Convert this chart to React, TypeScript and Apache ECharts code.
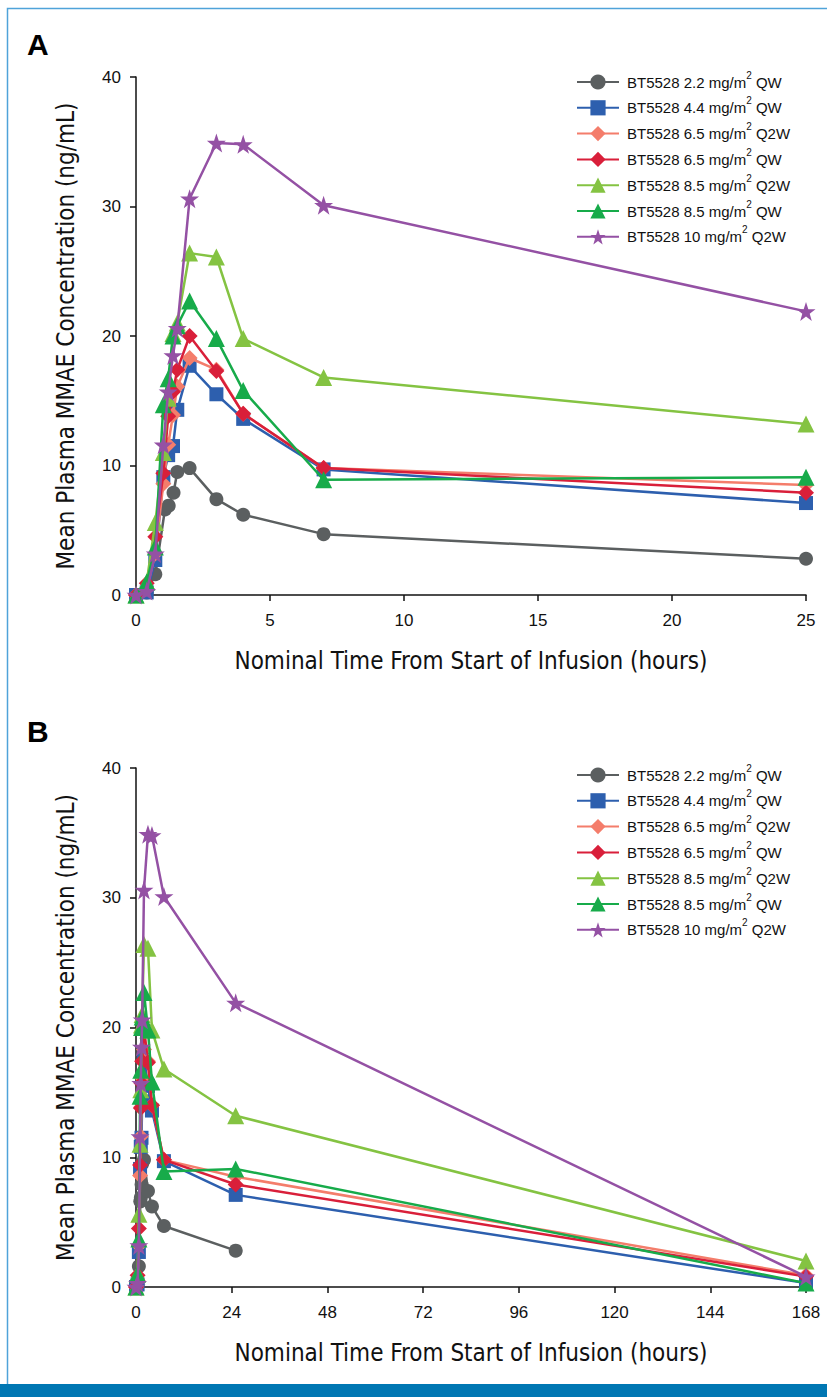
import React, { useEffect, useRef } from "react";
import * as echarts from "echarts";

const seriesNames = [
  "BT5528 2.2 mg/m2 QW",
  "BT5528 4.4 mg/m2 QW",
  "BT5528 6.5 mg/m2 Q2W",
  "BT5528 6.5 mg/m2 QW",
  "BT5528 8.5 mg/m2 Q2W",
  "BT5528 8.5 mg/m2 QW",
  "BT5528 10 mg/m2 Q2W",
];

const tGray = [0, 0.4, 0.72, 1.08, 1.22, 1.4, 1.54, 2, 3, 4, 7, 25];
const tStd = [0, 0.4, 0.72, 1.02, 1.2, 1.38, 1.54, 2, 3, 4, 7, 25, 168];

const vGray = [0, 0.2, 1.6, 6.6, 6.9, 7.9, 9.5, 9.8, 7.4, 6.2, 4.7, 2.8];
const vBlue = [0, 0.2, 2.7, 9.1, 10.8, 11.5, 14.3, 17.7, 15.5, 13.6, 9.7, 7.1, 0.3];
const vSalmon = [0, 0.5, 3.2, 8.6, 11.6, 13.9, 16.1, 18.3, 17.4, 14.0, 9.8, 8.5, 0.9];
const vRed = [0, 0.9, 4.5, 9.4, 13.8, 15.7, 17.4, 20.0, 17.3, 14.0, 9.8, 7.9, 0.8];
const vLightGreen = [0, 1.0, 5.6, 11.0, 15.2, 20.2, 21.0, 26.4, 26.1, 19.8, 16.8, 13.2, 2.0];
const vDarkGreen = [0, 1.0, 3.7, 14.7, 16.7, 20.0, 20.8, 22.7, 19.8, 15.8, 8.9, 9.1, 0.3];
const vPurple = [0, 0.3, 3.2, 11.6, 15.7, 18.5, 20.6, 30.6, 34.9, 34.8, 30.1, 21.9, 0.8];

const xTicksA = [0, 5, 10, 15, 20, 25];
const xTicksB = [0, 24, 48, 72, 96, 120, 144, 168];
const yTicks = [0, 10, 20, 30, 40];

const STAR =
  "path://M50,0 L61.8,35.1 L98.1,35.1 L68.8,56.8 L79.4,91.0 L50,70 L20.6,91.0 L31.2,56.8 L1.9,35.1 L38.2,35.1 Z";

const styles = [
  { color: "#5b5f60", symbol: "circle", size: 14 },
  { color: "#2d5fae", symbol: "rect", size: 14 },
  { color: "#f47d6b", symbol: "diamond", size: 16 },
  { color: "#d91f3a", symbol: "diamond", size: 16 },
  { color: "#84c342", symbol: "triangle", size: 17 },
  { color: "#17ab4a", symbol: "triangle", size: 17 },
  { color: "#9451a4", symbol: STAR, size: 19 },
];

const seriesTimes = [tGray, tStd, tStd, tStd, tStd, tStd, tStd];
const seriesValues = [vGray, vBlue, vSalmon, vRed, vLightGreen, vDarkGreen, vPurple];

const FONT = "'Liberation Sans', Arial, Helvetica, sans-serif";
const NARROW = "'Liberation Sans Narrow', 'DejaVu Sans Condensed', 'Liberation Sans', sans-serif";

function legendFormatter(name: string) {
  return name.replace("m2", "m{sup|2}");
}

export default function App() {
  const ref = useRef<HTMLDivElement>(null);

  useEffect(() => {
    if (!ref.current) return;
    const chart = echarts.init(ref.current, undefined, { renderer: "svg" });

    const grids = [
      { left: 136, top: 77, width: 670, height: 518 },
      { left: 136, top: 768, width: 670, height: 519 },
    ];

    const mkX = (i: number, max: number, interval: number, ticks: number[]) => ({
      type: "value",
      gridIndex: i,
      min: ticks[0],
      max,
      interval,
      name: "Nominal Time From Start of Infusion (hours)",
      nameLocation: "middle",
      nameGap: 54,
      nameTextStyle: { fontFamily: NARROW, fontSize: 24, color: "#111" },
      axisLine: { show: true, lineStyle: { color: "#111", width: 1.5 } },
      axisTick: { show: true, length: 6, lineStyle: { color: "#111", width: 1.5 } },
      axisLabel: { fontFamily: FONT, fontSize: 17, color: "#111", margin: 17 },
      splitLine: { show: false },
    });
    const mkY = (i: number) => ({
      type: "value",
      gridIndex: i,
      min: yTicks[0],
      max: yTicks[yTicks.length - 1],
      interval: 10,
      name: "Mean Plasma MMAE Concentration (ng/mL)",
      nameLocation: "middle",
      nameGap: 58,
      nameTextStyle: { fontFamily: NARROW, fontSize: 24, color: "#111" },
      axisLine: { show: true, lineStyle: { color: "#111", width: 1.5 } },
      axisTick: { show: true, length: 6, lineStyle: { color: "#111", width: 1.5 } },
      axisLabel: { fontFamily: FONT, fontSize: 17, color: "#111", margin: 15 },
      splitLine: { show: false },
    });

    const series: any[] = [];
    [0, 1].forEach((panel) => {
      seriesNames.forEach((name, k) => {
        const ts = seriesTimes[k];
        const vs = seriesValues[k];
        const data = ts
          .map((t, j) => [t, vs[j]])
          .filter((d) => (panel === 0 ? d[0] <= 25 : true));
        series.push({
          type: "line",
          name,
          xAxisIndex: panel,
          yAxisIndex: panel,
          data,
          symbol: styles[k].symbol,
          symbolSize: styles[k].size,
          showAllSymbol: true,
          color: styles[k].color,
          lineStyle: { color: styles[k].color, width: 2.5 },
          itemStyle: { color: styles[k].color },
          clip: true,
          z: 2 + k,
        });
      });
    });

    const legendCommon = {
      orient: "vertical",
      left: 571,
      itemWidth: 42,
      itemHeight: 19,
      itemGap: 6.2,
      formatter: legendFormatter,
      selectedMode: false,
      textStyle: {
        fontFamily: FONT,
        fontSize: 15,
        color: "#111",
        lineHeight: 14,
        padding: [0, 0, 0, 3],
        rich: {
          sup: { fontFamily: FONT, fontSize: 10, color: "#111", verticalAlign: "bottom", padding: [0, 0, 9, 0] },
        },
      },
      data: seriesNames.slice(),
    };

    chart.setOption({
      animation: false,
      backgroundColor: "#ffffff",
      grid: grids,
      xAxis: [mkX(0, 25, 5, xTicksA), mkX(1, 168, 24, xTicksB)],
      yAxis: [mkY(0), mkY(1)],
      legend: [
        { ...legendCommon, top: 65 },
        { ...legendCommon, top: 758 },
      ],
      graphic: [
        {
          type: "rect",
          shape: { x: 7.5, y: 8.5, width: 830, height: 1400 },
          style: { fill: "none", stroke: "#4fa3d9", lineWidth: 1.5 },
          silent: true,
        },
        {
          type: "rect",
          shape: { x: 0, y: 1384, width: 827, height: 13 },
          style: { fill: "#0077b3" },
          z: 100,
          silent: true,
        },
        {
          type: "text",
          left: 27,
          top: 29,
          style: { text: "A", fontFamily: FONT, fontWeight: "bold", fontSize: 30, fill: "#000" },
        },
        {
          type: "text",
          left: 27,
          top: 716,
          style: { text: "B", fontFamily: FONT, fontWeight: "bold", fontSize: 30, fill: "#000" },
        },
      ],
      series,
    });

    return () => chart.dispose();
  }, []);

  return (
    <div
      ref={ref}
      style={{ position: "absolute", left: 0, top: 0, width: 827, height: 1397 }}
    />
  );
}
